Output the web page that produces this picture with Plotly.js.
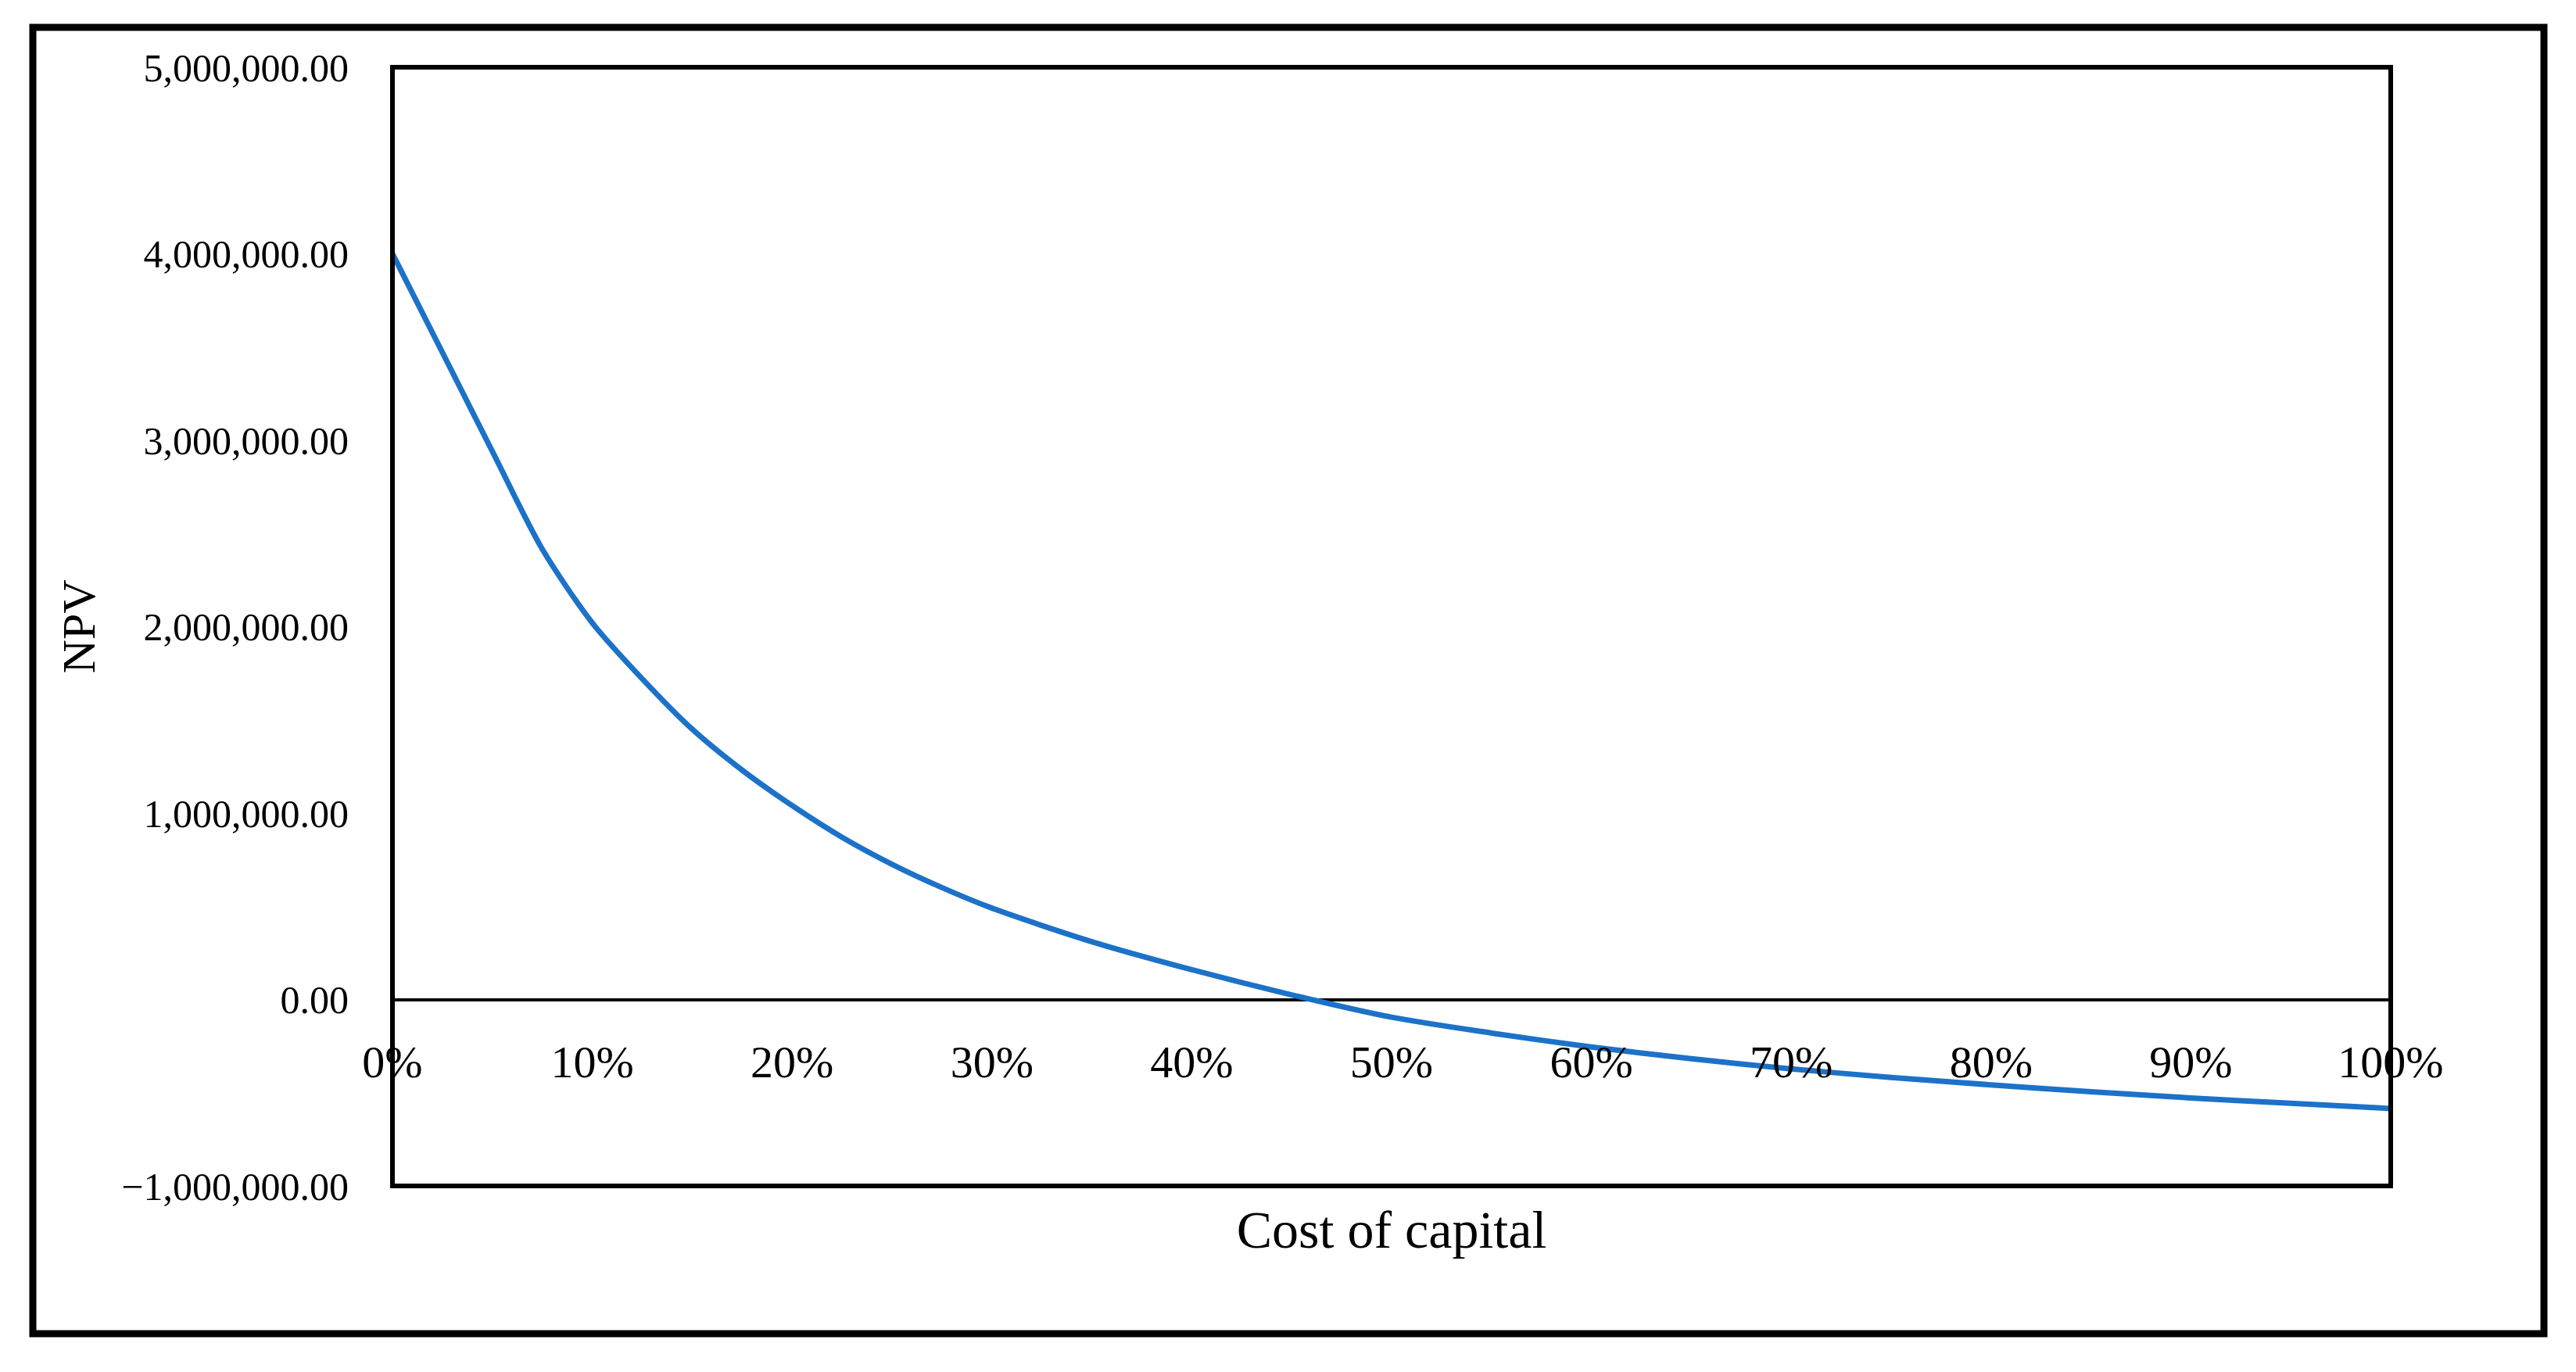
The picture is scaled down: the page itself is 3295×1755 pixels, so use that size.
<!DOCTYPE html>
<html>
<head>
<meta charset="utf-8">
<script src="https://cdn.plot.ly/plotly-3.0.1.min.js"></script>
<style>html,body{margin:0;padding:0;background:#fff;}#chart{width:3295px;height:1755px;}</style>
</head>
<body>
<div id="chart"></div>
<script>
// Cost of capital (fraction) and NPV values
const costOfCapital = [0, 0.025, 0.05, 0.075, 0.10, 0.125, 0.15, 0.175, 0.20, 0.225, 0.25, 0.275, 0.30, 0.35, 0.40, 0.45, 0.50,
                       0.55, 0.60, 0.65, 0.70, 0.75, 0.80, 0.85, 0.90, 0.95, 1.00];
const npvValues = [4000000, 3470000, 2940000, 2415000, 2020000, 1720000, 1450000, 1230000, 1040000, 870000, 725000, 600000,
                   490000, 310000, 160000, 25000, -95000,
                   -180000, -255000, -318000, -372000, -418000, -458000, -495000, -528000, -557000, -585000];
const xTickValues = [0, 0.1, 0.2, 0.3, 0.4, 0.5, 0.6, 0.7, 0.8, 0.9, 1.0];
const yTickValues = [-1000000, 0, 1000000, 2000000, 3000000, 4000000, 5000000];
const xTitle = 'Cost of capital';
const yTitle = 'NPV';

const yMin = -1000000, yMax = 5000000;
const serif = '"Liberation Serif", "DejaVu Serif", serif';

const trace = {
  x: costOfCapital,
  y: npvValues,
  type: 'scatter',
  mode: 'lines',
  line: {color: '#1c72c8', width: 7, shape: 'spline', smoothing: 0.8},
  hoverinfo: 'x+y',
  showlegend: false
};

const layout = {
  width: 3295,
  height: 1755,
  margin: {l: 502, r: 237, t: 86, b: 238, pad: 0},
  paper_bgcolor: '#ffffff',
  plot_bgcolor: '#ffffff',
  showlegend: false,
  xaxis: {
    range: [0, 1],
    tickvals: xTickValues,
    tickformat: '.0%',
    ticks: '',
    showgrid: false,
    zeroline: false,
    showline: false,
    anchor: 'free',
    position: (0 - yMin) / (yMax - yMin),
    ticklabelstandoff: 40,
    tickfont: {family: serif, size: 58, color: '#000'},
    title: {text: xTitle, font: {family: serif, size: 68, color: '#000'}, standoff: 158},
    automargin: false
  },
  yaxis: {
    range: [yMin, yMax],
    tickvals: yTickValues,
    tickformat: ',.2f',
    ticks: '',
    showgrid: false,
    zeroline: true,
    zerolinecolor: '#000',
    zerolinewidth: 4,
    showline: false,
    ticklabelstandoff: 55,
    tickfont: {family: serif, size: 50, color: '#000'},
    title: {text: yTitle, font: {family: serif, size: 60, color: '#000'}, standoff: 14},
    automargin: false
  },
  shapes: [
    {type: 'rect', xref: 'paper', yref: 'paper', x0: 0, x1: 1, y0: 0, y1: 1,
     line: {color: '#000', width: 6}, fillcolor: 'rgba(0,0,0,0)', layer: 'above'},
    {type: 'rect', xref: 'paper', yref: 'paper', x0: -0.17997, x1: 1.07668, y0: -0.13208, y1: 1.03564,
     line: {color: '#000', width: 9}, fillcolor: 'rgba(0,0,0,0)', layer: 'above'}
  ]
};

Plotly.newPlot('chart', [trace], layout, {displayModeBar: false, staticPlot: true});
</script>
</body>
</html>
